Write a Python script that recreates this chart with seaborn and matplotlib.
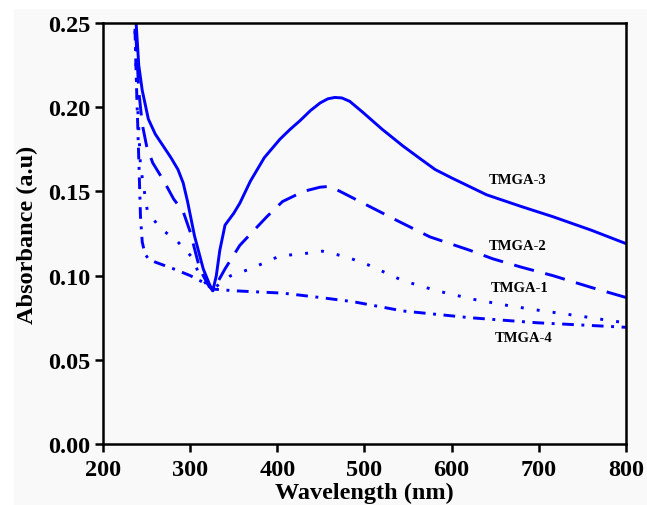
import matplotlib
matplotlib.use("Agg")
import matplotlib.pyplot as plt
from matplotlib.patches import Rectangle
import seaborn as sns
import pandas as pd

# ---- data ----
tmga3_wl = [234, 238, 241, 245, 252, 260, 269, 278, 286, 292, 297, 305, 315, 322, 326, 330, 334, 340, 350, 357, 369, 385, 403, 415, 426, 438, 449, 458, 466, 474, 483, 498, 520, 544, 565, 581, 600, 640, 680, 716, 760, 800]
tmga3 = [0.30, 0.25, 0.225, 0.21, 0.193, 0.184, 0.177, 0.170, 0.163, 0.155, 0.144, 0.1235, 0.104, 0.095, 0.091, 0.100, 0.115, 0.130, 0.137, 0.143, 0.156, 0.170, 0.181, 0.187, 0.192, 0.198, 0.2025, 0.205, 0.2058, 0.2055, 0.2035, 0.197, 0.187, 0.177, 0.169, 0.163, 0.158, 0.148, 0.141, 0.135, 0.127, 0.119]

tmga2_wl = [234, 238, 241, 245, 250, 257, 270, 281, 292, 300, 311, 320, 326, 340, 357, 388, 406, 430, 449, 460, 472, 506, 540, 575, 621, 647, 680, 716, 760, 800]
tmga2 = [0.30, 0.24, 0.21, 0.19, 0.177, 0.167, 0.156, 0.1455, 0.138, 0.126, 0.104, 0.095, 0.091, 0.104, 0.118, 0.135, 0.144, 0.150, 0.1525, 0.153, 0.150, 0.141, 0.132, 0.123, 0.115, 0.110, 0.105, 0.100, 0.093, 0.087]

tmga1_wl = [234, 238, 243, 251, 266, 285, 302, 311, 320, 326, 346, 369, 403, 430, 452, 480, 506, 544, 583, 624, 667, 705, 747, 785, 800]
tmga1 = [0.30, 0.22, 0.165, 0.138, 0.128, 0.1205, 0.111, 0.100, 0.094, 0.092, 0.0998, 0.104, 0.1117, 0.113, 0.1145, 0.111, 0.106, 0.097, 0.091, 0.086, 0.082, 0.079, 0.076, 0.073, 0.072]

tmga4_wl = [234, 238, 241, 243, 245, 248, 252, 260, 281, 300, 315, 326, 350, 406, 449, 487, 544, 621, 698, 793, 800]
tmga4 = [0.30, 0.22, 0.17, 0.135, 0.12, 0.113, 0.110, 0.108, 0.104, 0.100, 0.096, 0.092, 0.091, 0.0896, 0.087, 0.0845, 0.079, 0.075, 0.072, 0.0695, 0.0693]

labels = ["TMGA-3", "TMGA-2", "TMGA-1", "TMGA-4"]
label_x = [676, 676, 678, 682]
label_y = [0.157, 0.1176, 0.0932, 0.0635]

x_ticks = [200, 300, 400, 500, 600, 700, 800]
y_ticks = [0.00, 0.05, 0.10, 0.15, 0.20, 0.25]

# ---- style ----
sns.set_theme(style="ticks")
plt.rcParams["font.family"] = ["Liberation Serif", "DejaVu Serif"]
plt.rcParams["font.weight"] = "bold"
plt.rcParams["text.color"] = "black"
plt.rcParams["axes.labelcolor"] = "black"

bg = "#f9f9f9"
fig = plt.figure(figsize=(6.47, 5.06), dpi=100, facecolor="white")
fig.patches.append(Rectangle((14 / 647, 0), 1 - 14 / 647, 1 - 10 / 506,
                             transform=fig.transFigure, facecolor=bg,
                             edgecolor="none", zorder=-10))
ax = fig.add_axes([103 / 647, 61 / 506, (626 - 103) / 647, (445 - 24) / 506])
ax.set_facecolor(bg)

blue = "#0000ff"
series = [
    (tmga3_wl, tmga3, "-"),
    (tmga2_wl, tmga2, (0, (7, 4))),
    (tmga1_wl, tmga1, (0, (1, 4.5))),
    (tmga4_wl, tmga4, (0, (4, 2.6, 1, 2.6))),
]
for (wl, val, ls), name in zip(series, labels):
    df = pd.DataFrame({"wl": wl, "abs": val})
    sns.lineplot(data=df, x="wl", y="abs", ax=ax, color=blue, lw=2.1,
                 linestyle=ls, sort=False, estimator=None)

for name, lx, ly in zip(labels, label_x, label_y):
    ax.text(lx, ly, name, fontsize=10.5, fontweight="bold", ha="center",
            va="center", color="black")

ax.set_xlim(200, 800)
ax.set_ylim(0, 0.25)
ax.set_xticks(x_ticks)
ax.set_yticks(y_ticks)
ax.set_xticklabels([str(t) for t in x_ticks])
ax.set_yticklabels([f"{t:.2f}" for t in y_ticks])
ax.tick_params(axis="both", direction="out", length=6, width=1.8,
               labelsize=17.5, colors="black", labelcolor="black")
ax.tick_params(axis="x", pad=5)
ax.tick_params(axis="y", pad=3)
for lab in ax.get_xticklabels() + ax.get_yticklabels():
    lab.set_fontweight("bold")
ax.tick_params(top=False, right=False)
for sp in ax.spines.values():
    sp.set_visible(True)
    sp.set_linewidth(1.8)
    sp.set_color("black")

ax.set_xlabel("Wavelength (nm)", fontsize=17.5, fontweight="bold", labelpad=1)
ax.set_ylabel("Absorbance (a.u)", fontsize=17.5, fontweight="bold", labelpad=7)

fig.savefig("out.png", dpi=100, facecolor=fig.get_facecolor())
